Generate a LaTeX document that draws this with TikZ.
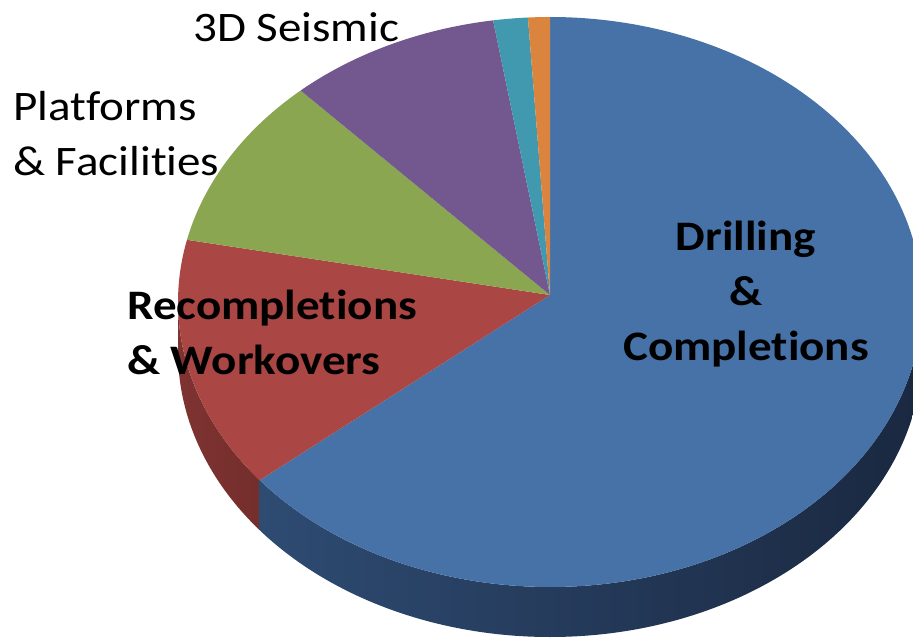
\documentclass[tikz,border=0pt]{standalone}
\usepackage{fontspec}
\setmainfont{Carlito}[FakeStretch=1.12,Ligatures=NoCommon]
\usepackage{tikz}
\usetikzlibrary{calc}

\definecolor{drillblue}{HTML}{4672A8}
\definecolor{drillside}{HTML}{2E4B72}
\definecolor{drillsidemid}{HTML}{1F3049}
\definecolor{drillsidedark}{HTML}{1A2840}
\definecolor{recred}{HTML}{AA4643}
\definecolor{recside}{HTML}{7E3331}
\definecolor{recsidedark}{HTML}{742E2C}
\definecolor{platgreen}{HTML}{8AA650}
\definecolor{seispurple}{HTML}{73588F}
\definecolor{otherteal}{HTML}{4199B0}
\definecolor{otherorange}{HTML}{DB843D}

\begin{document}
\begin{tikzpicture}[x=1pt,y=1pt,
    lbl/.style={font=\fontsize{42}{55}\selectfont,inner sep=0pt},
    blbl/.style={font=\fontsize{42}{55}\selectfont\bfseries,inner sep=0pt}]
        \useasboundingbox (0,0) rectangle (913,641);
        \clip (0,0) rectangle (913,641);
        \coordinate (c) at (550,339);  % centre of the top ellipse
        \coordinate (v) at (550,346);  % where the slices meet
        % side wall
        \shade[left color=recside,right color=recsidedark]
          ($(c)+(180:372 and 285)$) arc[start angle=180,end angle=218.7,x radius=372,y radius=285]
          -- ++(0,-50) arc[start angle=218.7,end angle=180,x radius=372,y radius=285] -- cycle;
        \shade[left color=drillside,middle color=drillsidemid,right color=drillsidedark]
          ($(c)+(218.7:372 and 285)$) arc[start angle=218.7,end angle=360,x radius=372,y radius=285]
          -- ++(0,-50) arc[start angle=360,end angle=218.7,x radius=372,y radius=285] -- cycle;
        % top of the pie
        \fill[drillblue] (v) -- ($(c)+(218.7:372 and 285)$) arc[start angle=218.7,end angle=450,x radius=372,y radius=285] -- cycle;
        \fill[recred] (v) -- ($(c)+(167.4:372 and 285)$) arc[start angle=167.4,end angle=218.7,x radius=372,y radius=285] -- cycle;
        \fill[platgreen] (v) -- ($(c)+(132.1:372 and 285)$) arc[start angle=132.1,end angle=167.4,x radius=372,y radius=285] -- cycle;
        \fill[seispurple] (v) -- ($(c)+(98.8:372 and 285)$) arc[start angle=98.8,end angle=132.1,x radius=372,y radius=285] -- cycle;
        \fill[otherteal] (v) -- ($(c)+(93.4:372 and 285)$) arc[start angle=93.4,end angle=98.8,x radius=372,y radius=285] -- cycle;
        \fill[otherorange] (v) -- ($(c)+(90:372 and 285)$) arc[start angle=90,end angle=93.4,x radius=372,y radius=285] -- cycle;
        % labels (base = last line)
        \node[lbl,anchor=base west] (seismic) at (193,599) {3D Seismic};
        \node[lbl,anchor=base west,align=left] (platforms) at (13,465) {Platforms\\\& Facilities};
        \node[blbl,anchor=base west,align=left] (recomp) at (127,267) {Recompletions\\\& Workovers};
        \node[blbl,anchor=base,align=center] (drilling) at (746,281) {Drilling\\\&\\Completions};
      \end{tikzpicture}
\end{document}
